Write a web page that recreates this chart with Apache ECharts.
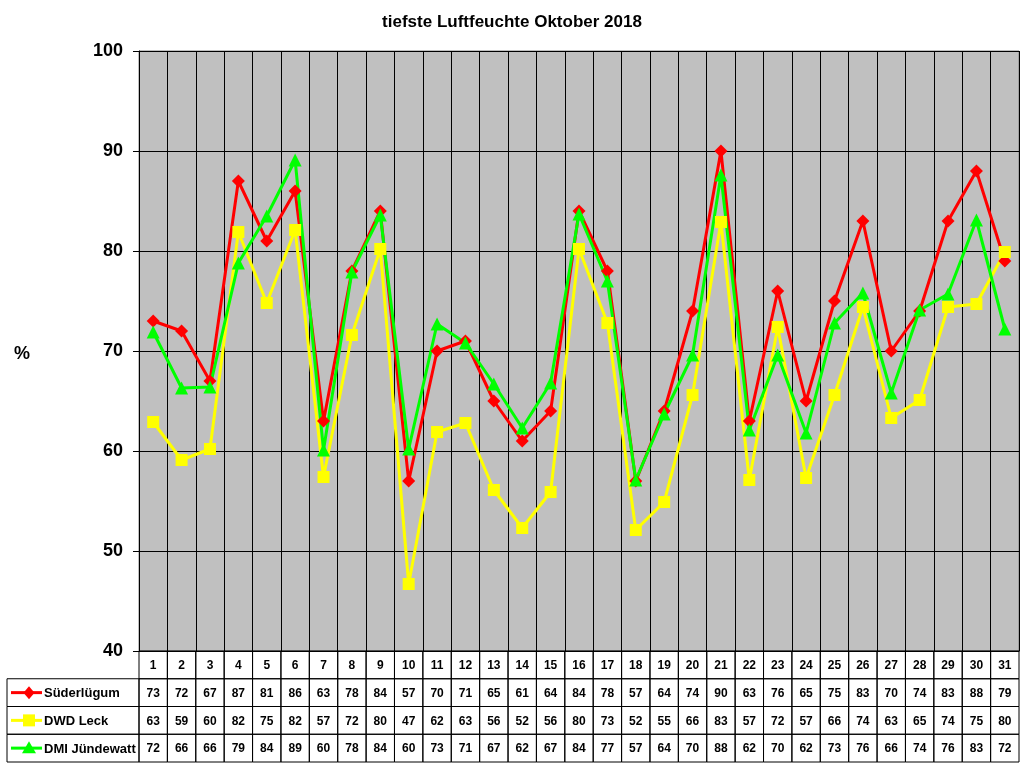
<!DOCTYPE html>
<html>
<head>
<meta charset="utf-8">
<script src="https://cdn.jsdelivr.net/npm/echarts@6/dist/echarts.min.js"></script>
<style>
  html, body { margin: 0; padding: 0; background: #fff; }
  #chart { width: 1024px; height: 768px; }
</style>
</head>
<body>
<div id="chart"></div>
<script>
// Oktober 2018, tiefste Luftfeuchte je Tag (%)
const days = ['1','2','3','4','5','6','7','8','9','10','11','12','13','14','15','16',
  '17','18','19','20','21','22','23','24','25','26','27','28','29','30','31'];
const suederluegum = [73, 72, 67, 87, 81, 86, 63, 78, 84, 57, 70, 71, 65, 61, 64, 84,
  78, 57, 64, 74, 90, 63, 76, 65, 75, 83, 70, 74, 83, 88, 79];
const dwdLeck = [62.9, 59.1, 60.2, 81.9, 74.8, 82.1, 57.4, 71.6, 80.2, 46.7, 61.9, 62.8, 56.1, 52.3, 55.9, 80.2,
  72.8, 52.1, 54.9, 65.6, 82.9, 57.1, 72.4, 57.3, 65.6, 74.4, 63.3, 65.1, 74.4, 74.7, 79.9];
const dmiJuendewatt = [71.9, 66.3, 66.4, 78.8, 83.5, 89.1, 60.1, 77.9, 83.6, 60.2, 72.7, 70.8, 66.7, 62.3, 66.8, 83.7,
  77.0, 57.1, 63.7, 69.6, 87.6, 62.1, 69.6, 61.8, 72.8, 75.8, 65.8, 74.1, 75.7, 83.1, 72.2];
const yMin = 40, yMax = 100, yStep = 10;
const rowNames = ['', 'Süderlügum', 'DWD Leck', 'DMI Jündewatt'];

const seriesList = [
  { name: 'Süderlügum', data: suederluegum, color: '#FF0000', symbol: 'diamond', size: 13 },
  { name: 'DWD Leck', data: dwdLeck, color: '#FFFF00', symbol: 'rect', size: 12 },
  { name: 'DMI Jündewatt', data: dmiJuendewatt, color: '#00FF00', symbol: 'triangle', size: 13 }
];

const font = 'Arial, "Liberation Sans", sans-serif';

// table cells: header row with day numbers, then one row per station
const tableData = [];
days.forEach((d, i) => tableData.push([i, 0, d]));
seriesList.forEach((s, r) => s.data.forEach((v, i) => tableData.push([i, r + 1, String(Math.round(v))])));

function markerShape(kind, cx, cy, color) {
  if (kind === 'diamond') {
    return { type: 'polygon', shape: { points: [[cx, cy - 6.5], [cx + 5.5, cy], [cx, cy + 6.5], [cx - 5.5, cy]] }, style: { fill: color } };
  }
  if (kind === 'rect') {
    return { type: 'rect', shape: { x: cx - 6, y: cy - 6, width: 12, height: 12 }, style: { fill: color } };
  }
  return { type: 'polygon', shape: { points: [[cx, cy - 7], [cx + 7, cy + 5], [cx - 7, cy + 5]] }, style: { fill: color } };
}

const chart = echarts.init(document.getElementById('chart'));

const option = {
  animation: false,
  backgroundColor: '#fff',
  title: [
    {
      text: 'tiefste Luftfeuchte Oktober 2018',
      left: 'center', top: 9,
      textStyle: { fontFamily: font, fontSize: 17, fontWeight: 'bold', color: '#000' }
    },
    {
      text: '%', left: 9, top: 340,
      textStyle: { fontFamily: font, fontSize: 18, fontWeight: 'bold', color: '#000' }
    }
  ],
  grid: [
    { left: 139, right: 5, top: 51, height: 600, show: true, backgroundColor: '#C0C0C0', borderColor: '#808080', borderWidth: 1 },
    { left: 139, right: 5, top: 651, height: 111 }
  ],
  xAxis: [
    {
      type: 'category', gridIndex: 0, data: days, boundaryGap: true,
      axisLine: { show: true, lineStyle: { color: '#000', width: 1 } },
      axisTick: { show: false },
      axisLabel: { show: false },
      splitLine: { show: true, interval: 0, lineStyle: { color: '#000', width: 1 } }
    },
    {
      type: 'category', gridIndex: 1, data: days, boundaryGap: true,
      axisLine: { show: false }, axisTick: { show: false }, axisLabel: { show: false }, splitLine: { show: false }
    }
  ],
  yAxis: [
    {
      type: 'value', gridIndex: 0, min: yMin, max: yMax, interval: yStep,
      axisLine: { show: true, lineStyle: { color: '#000', width: 1 } },
      axisTick: { show: true, inside: false, length: 6, lineStyle: { color: '#000' } },
      axisLabel: { margin: 16, fontFamily: font, fontSize: 18, fontWeight: 'bold', color: '#000' },
      splitLine: { show: true, lineStyle: { color: '#000', width: 1 } }
    },
    {
      type: 'category', gridIndex: 1, data: rowNames, inverse: true,
      axisLine: { show: false }, axisTick: { show: false }, axisLabel: { show: false }, splitLine: { show: false }
    }
  ],
  series: [
    ...seriesList.map(s => ({
      name: s.name,
      type: 'line',
      xAxisIndex: 0, yAxisIndex: 0,
      data: s.data,
      symbol: s.symbol,
      symbolSize: s.size,
      lineStyle: { color: s.color, width: 3 },
      itemStyle: { color: s.color },
      emphasis: { disabled: true }
    })),
    {
      type: 'custom',
      name: 'table',
      xAxisIndex: 1, yAxisIndex: 1,
      clip: false,
      data: tableData.map(d => [d[0], d[1]]),
      renderItem(params, api) {
        const c = api.coord([api.value(0), api.value(1)]);
        const sz = api.size([1, 1]);
        return {
          type: 'group',
          children: [
            { type: 'rect', shape: { x: c[0] - sz[0] / 2, y: c[1] - sz[1] / 2, width: sz[0], height: sz[1] },
              style: { fill: 'none', stroke: '#000', lineWidth: 1 } },
            { type: 'text', x: c[0], y: c[1] + 1,
              style: { text: tableData[params.dataIndex][2], fill: '#000', font: 'bold 12px ' + font, align: 'center', verticalAlign: 'middle' } }
          ]
        };
      }
    },
    {
      type: 'custom',
      name: 'legendcells',
      xAxisIndex: 1, yAxisIndex: 1,
      clip: false,
      data: seriesList.map((s, r) => [0, r + 1]),
      renderItem(params, api) {
        const s = seriesList[params.dataIndex];
        const c = api.coord([0, api.value(1)]);
        const sz = api.size([1, 1]);
        const left = 7, right = params.coordSys.x;
        const cy = c[1];
        return {
          type: 'group',
          children: [
            { type: 'rect', shape: { x: left, y: cy - sz[1] / 2, width: right - left, height: sz[1] },
              style: { fill: 'none', stroke: '#000', lineWidth: 1 } },
            { type: 'line', shape: { x1: 11, y1: cy, x2: 42, y2: cy }, style: { stroke: s.color, lineWidth: 3 } },
            markerShape(s.symbol, 29, cy, s.color),
            { type: 'text', x: 44, y: cy + 1,
              style: { text: s.name, fill: '#000', font: 'bold 13px ' + font, align: 'left', verticalAlign: 'middle' } }
          ]
        };
      }
    }
  ]
};

chart.setOption(option);
</script>
</body>
</html>
